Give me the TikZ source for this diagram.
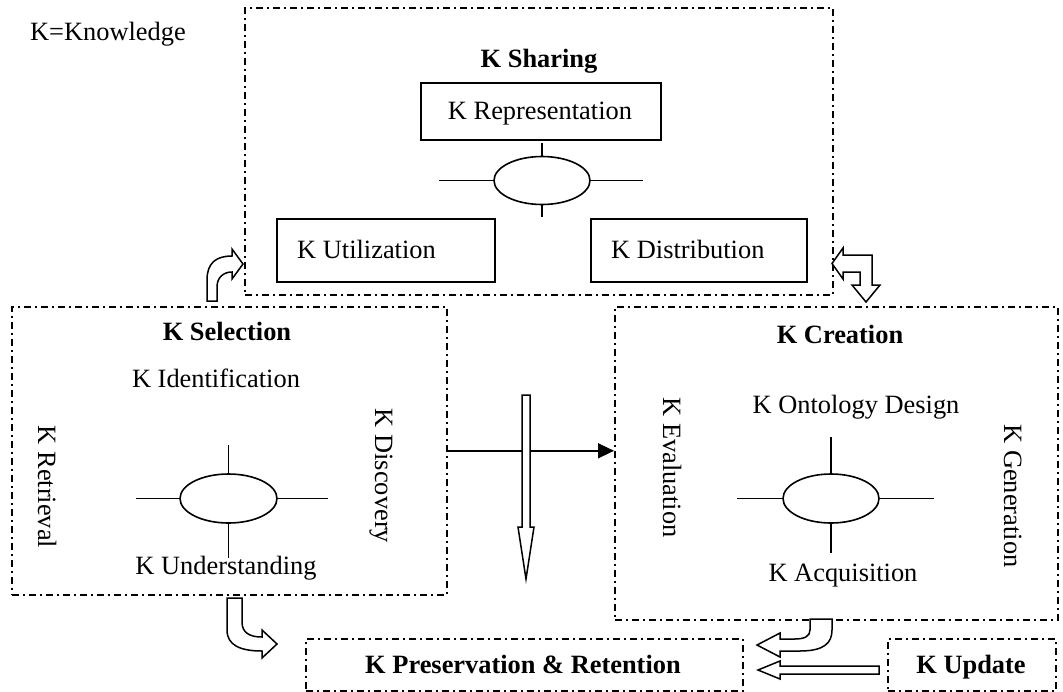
\documentclass[tikz,border=0pt]{standalone}
\usepackage{fontspec}
\setmainfont{Liberation Serif}
\usetikzlibrary{shapes.geometric,arrows.meta}
\begin{document}
\begin{tikzpicture}[x=1pt,y=-1pt,
  dd/.style={draw, line width=1.6pt, dash pattern=on 7pt off 4pt on 2pt off 4pt, inner sep=0, anchor=north west},
  sbox/.style={draw, line width=1.8pt, inner sep=0, anchor=north west},
  lab/.style={font=\fontsize{26.4}{30}\selectfont, inner sep=0, anchor=base},
  blab/.style={lab, font=\fontsize{26.4}{30}\selectfont\bfseries},
  vlab/.style={lab, rotate=-90},
  hub/.style={draw, ellipse, line width=1.6pt, inner sep=0, minimum width=96pt, minimum height=48pt},
  tick/.style={line width=1.6pt},
  blk/.style={draw, fill=white, line width=1.5pt, line join=miter},
]
\useasboundingbox (0,0) rectangle (1063,691);

% dash-dot frames
\node[dd, minimum width=588pt, minimum height=287pt] (share) at (244,7) {};
\node[dd, minimum width=435pt, minimum height=288pt] (sel) at (11,306) {};
\node[dd, minimum width=443pt, minimum height=313pt] (cre) at (614,306) {};
\node[dd, minimum width=437pt, minimum height=52pt] (pres) at (305,638) {};
\node[dd, minimum width=168pt, minimum height=52pt] (upd) at (887,638) {};

% solid boxes
\node[sbox, minimum width=240pt, minimum height=57pt] (rep) at (420,82) {};
\node[sbox, minimum width=218pt, minimum height=63pt] (uti) at (276,218) {};
\node[sbox, minimum width=216pt, minimum height=63pt] (dis) at (590,218) {};

% texts
\node[lab] (kn) at (108,40) {K=Knowledge};
\node[blab] (tsh) at (539,67) {K Sharing};
\node[lab] (trep) at (540,119) {K Representation};
\node[lab, anchor=base west] (tuti) at (297,258) {K Utilization};
\node[lab, anchor=base west] (tdis) at (611,258) {K Distribution};

\node[blab] (tsel) at (227,340) {K Selection};
\node[lab] (tide) at (216,387) {K Identification};
\node[lab] (tund) at (226,574) {K Understanding};
\node[vlab] (tret) at (38,487) {K Retrieval};
\node[vlab] (tdsc) at (375,476) {K Discovery};

\node[blab] (tcre) at (840,343) {K Creation};
\node[lab] (tont) at (856,413) {K Ontology Design};
\node[lab] (tacq) at (843,581) {K Acquisition};
\node[vlab] (teva) at (663,467.5) {K Evaluation};
\node[vlab] (tgen) at (1004,496) {K Generation};

\node[blab] (tpre) at (523,673) {K Preservation \& Retention};
\node[blab] (tupd) at (971,673) {K Update};

% hubs
\node[hub] (h1) at (542,180.5) {};
\draw[tick] (h1.west) -- ++(-54,0) (h1.east) -- ++(52,0) (h1.north) -- ++(0,-13) (h1.south) -- ++(0,12);
\node[hub, minimum width=97pt, minimum height=49pt] (h2) at (228.5,498.5) {};
\draw[tick] (h2.west) -- ++(-43,0) (h2.east) -- ++(50,0) (h2.north) -- ++(0,-28) (h2.south) -- ++(0,34);
\node[hub, minimum height=49pt] (h3) at (831,498.5) {};
\draw[tick] (h3.west) -- ++(-45,0) (h3.east) -- ++(54,0) (h3.north) -- ++(0,-36) (h3.south) -- ++(0,29);

% connector selection -> creation
\draw[line width=1.5pt, -{Triangle[length=16pt,width=15pt]}] (sel.east) -- (sel.east -| cre.west);

% block arrows
\draw[blk] (522,395) -- (522,527) -- (518,527) -- (526,579) -- (534,527) -- (530,527) -- (530,395) -- cycle;
\draw[blk] (207,301) -- (207,280) .. controls (207,263) and (216,256) .. (232,256) -- (232,249) -- (243,264) -- (232,279) -- (232,272) .. controls (224,272) and (217,277) .. (217,287) -- (217,301) -- cycle;
\draw[blk] (832,263.5) -- (843,248) -- (843,255) -- (872,255) -- (872,285) -- (880,285) -- (866,302) -- (852,285) -- (860,285) -- (860,272) -- (843,272) -- (843,279) -- cycle;
\draw[blk] (227,598) -- (227,630) .. controls (227,645) and (240,651) .. (262,651) -- (262,658) -- (277,644) -- (262,630) -- (262,637) .. controls (250,637) and (242,633) .. (242,622) -- (242,598) -- cycle;
\draw[blk] (810,619) -- (810,630) .. controls (810,636) and (805,639) .. (795,639) -- (780,639) -- (780,633) -- (757,645) -- (780,657) -- (780,651) -- (800,651) .. controls (824,651) and (832,643) .. (832,630) -- (832,619) -- cycle;
\draw[blk] (879,666) -- (780,666) -- (780,661) -- (758,670) -- (780,679) -- (780,674) -- (879,674) -- cycle;
\end{tikzpicture}
\end{document}
